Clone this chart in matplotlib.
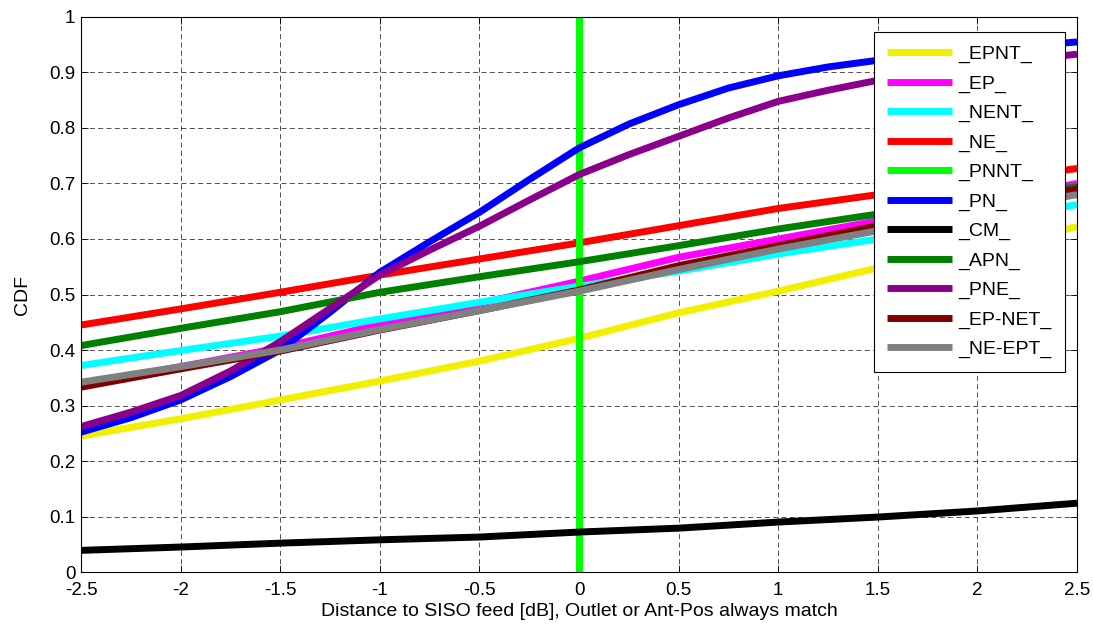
import matplotlib
matplotlib.use("Agg")
import matplotlib.pyplot as plt

plt.rcParams['font.family'] = ['Liberation Sans', 'DejaVu Sans']

x = [-2.5, -2.0, -1.5, -1.0, -0.5, 0.0, 0.5, 1.0, 1.5, 2.0, 2.5]
x_fine = [-2.5, -2.25, -2.0, -1.75, -1.5, -1.25, -1.0, -0.75, -0.5, -0.25, 0.0,
          0.25, 0.5, 0.75, 1.0, 1.25, 1.5, 1.75, 2.0, 2.25, 2.5]

epnt = [0.245, 0.276, 0.310, 0.344, 0.380, 0.421, 0.467, 0.506, 0.548, 0.585, 0.622]
ep = [0.338, 0.370, 0.404, 0.446, 0.484, 0.524, 0.567, 0.600, 0.633, 0.667, 0.700]
nent = [0.372, 0.399, 0.425, 0.456, 0.486, 0.515, 0.542, 0.573, 0.600, 0.630, 0.662]
ne = [0.445, 0.474, 0.504, 0.535, 0.564, 0.593, 0.624, 0.655, 0.680, 0.703, 0.727]
pnnt_x = [0.0, 0.0]
pnnt_y = [0.0, 1.0]
pn = [0.252, 0.278, 0.310, 0.352, 0.400, 0.468, 0.540, 0.595, 0.648, 0.707, 0.764,
      0.807, 0.842, 0.872, 0.894, 0.910, 0.922, 0.932, 0.940, 0.948, 0.955]
cm = [0.039, 0.045, 0.052, 0.058, 0.063, 0.072, 0.079, 0.090, 0.099, 0.110, 0.124]
apn = [0.408, 0.439, 0.469, 0.504, 0.532, 0.559, 0.588, 0.618, 0.645, 0.670, 0.694]
pne = [0.262, 0.288, 0.318, 0.362, 0.415, 0.475, 0.535, 0.580, 0.623, 0.670, 0.716,
       0.752, 0.785, 0.818, 0.848, 0.868, 0.886, 0.900, 0.912, 0.923, 0.933]
ep_net = [0.333, 0.366, 0.398, 0.436, 0.471, 0.508, 0.552, 0.588, 0.624, 0.657, 0.690]
ne_ept = [0.342, 0.370, 0.400, 0.437, 0.471, 0.506, 0.545, 0.582, 0.615, 0.648, 0.680]

labels = ['_EPNT_', '_EP_', '_NENT_', '_NE_', '_PNNT_', '_PN_', '_CM_',
          '_APN_', '_PNE_', '_EP-NET_', '_NE-EPT_']
colors = ['#f0f000', '#ff00ff', '#00ffff', '#ff0000', '#00ff00', '#0000ff',
          '#000000', '#008000', '#8b008b', '#800000', '#808080']

fig = plt.figure(figsize=(10.93, 6.27), dpi=100)
ax = fig.add_axes([0.0741, 0.0877, 0.9113, 0.8852])

series = [(x, epnt), (x, ep), (x, nent), (x, ne), (pnnt_x, pnnt_y), (x_fine, pn),
          (x, cm), (x, apn), (x_fine, pne), (x, ep_net), (x, ne_ept)]
handles = []
for (xs, ys), c in zip(series, colors):
    h, = ax.plot(xs, ys, color=c, lw=5.0, solid_capstyle='butt', solid_joinstyle='round')
    handles.append(h)

ax.set_xlim(-2.5, 2.5)
ax.set_ylim(0, 1)
ax.set_xticks([-2.5, -2, -1.5, -1, -0.5, 0, 0.5, 1, 1.5, 2, 2.5])
ax.set_xticklabels(['-2.5', '-2', '-1.5', '-1', '-0.5', '0', '0.5', '1', '1.5', '2', '2.5'])
ax.set_yticks([0, 0.1, 0.2, 0.3, 0.4, 0.5, 0.6, 0.7, 0.8, 0.9, 1])
ax.set_yticklabels(['0', '0.1', '0.2', '0.3', '0.4', '0.5', '0.6', '0.7', '0.8', '0.9', '1'])
ax.tick_params(direction='in', top=True, right=True, labelsize=13.5, length=5, width=0.6, pad=4)
ax.tick_params(axis='x', pad=7)
ax.grid(True, color='black', linestyle=(0, (6, 4)), linewidth=0.6, alpha=0.8)
for s in ax.spines.values():
    s.set_linewidth(0.8)

ax.set_xlabel('Distance to SISO feed [dB], Outlet or Ant-Pos always match', fontsize=14, labelpad=3)
ax.set_ylabel('CDF', fontsize=14, labelpad=13)

leg = ax.legend(handles, labels, loc='upper left', bbox_to_anchor=(0.796, 0.973),
                bbox_transform=ax.transAxes,
                borderaxespad=0, fancybox=False, framealpha=1, edgecolor='black',
                fontsize=14, handlelength=3.3, handletextpad=0.35, labelspacing=0.6,
                borderpad=0.7)
leg.get_frame().set_linewidth(0.8)

fig.savefig('out.png', dpi=100)
